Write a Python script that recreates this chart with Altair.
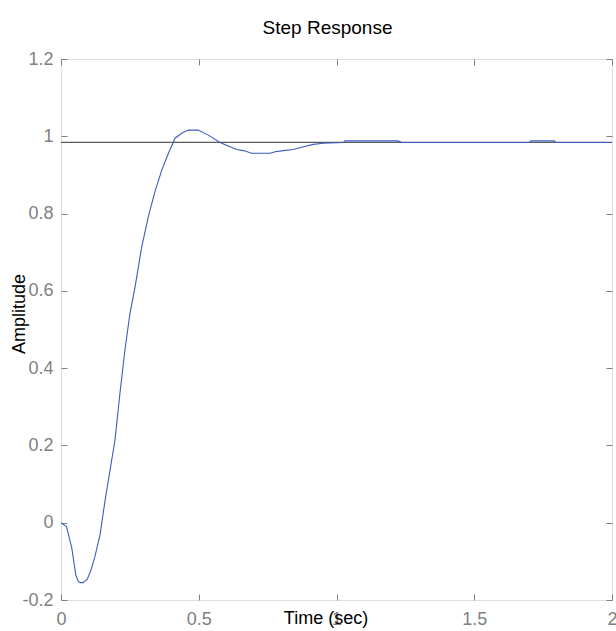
import altair as alt
import pandas as pd

# Step response samples
t_vals = [0, 0.02, 0.039, 0.054, 0.063, 0.07, 0.08, 0.095, 0.11, 0.123, 0.142,
          0.16, 0.178, 0.196, 0.214, 0.232, 0.25, 0.269, 0.293, 0.317, 0.341,
          0.366, 0.39, 0.414, 0.438, 0.462, 0.498, 0.535, 0.577, 0.638, 0.662,
          0.692, 0.759, 0.777, 0.807, 0.843, 0.88, 0.916, 0.952, 1.025, 1.031,
          1.224, 1.237, 1.70, 1.706, 1.79, 1.796, 2.0]
amp_vals = [0, -0.01, -0.065, -0.136, -0.152, -0.155, -0.155, -0.147, -0.12, -0.088, -0.03,
            0.058, 0.136, 0.214, 0.335, 0.447, 0.54, 0.611, 0.714, 0.792, 0.857,
            0.913, 0.956, 0.995, 1.008, 1.016, 1.016, 1.003, 0.984, 0.966, 0.963,
            0.956, 0.956, 0.960, 0.963, 0.966, 0.973, 0.979, 0.982, 0.984, 0.988,
            0.988, 0.984, 0.984, 0.988, 0.988, 0.984, 0.984]
steady_state = [0.984]
x_ticks = [0, 0.5, 1, 1.5, 2]
y_ticks = [-0.2, 0, 0.2, 0.4, 0.6, 0.8, 1, 1.2]

df = pd.DataFrame({"t": t_vals, "amp": amp_vals})
ss = pd.DataFrame({"ss": steady_state})

FONT = "Liberation Sans"
GRAY = "#808080"

xscale = alt.Scale(domain=[0, 2], nice=False, zero=False)
yscale = alt.Scale(domain=[-0.2, 1.2], nice=False, zero=False)

common_axis = dict(grid=False, domain=False, tickColor=GRAY, tickSize=6,
                   tickWidth=1, offset=-6, labelFlush=False, labelOverlap=False)

x_bottom = alt.Axis(values=x_ticks, orient="bottom", labelExpr="'' + datum.value",
                    labelFont=FONT, labelFontSize=18, labelColor=GRAY, labelPadding=10,
                    title="Time (sec)", titleFont=FONT, titleFontSize=18,
                    titleFontWeight="normal", titleColor="black",
                    titleX=264.5, titleY=29, titleBaseline="alphabetic",
                    titleAlign="center", **common_axis)
y_left = alt.Axis(values=y_ticks, orient="left", labelExpr="'' + datum.value",
                  labelFont=FONT, labelFontSize=18, labelColor=GRAY, labelPadding=8,
                  title="Amplitude", titleFont=FONT, titleFontSize=18,
                  titleFontWeight="normal", titleColor="black",
                  titleX=-43, titleY=254.5, titleBaseline="alphabetic",
                  titleAlign="center", titleAngle=270, **common_axis)
x_top = alt.Axis(values=x_ticks, orient="top", labels=False, title=None, **common_axis)
y_right = alt.Axis(values=y_ticks, orient="right", labels=False, title=None, **common_axis)

ref = alt.Chart(ss).mark_rule(color="#5a5a5a", strokeWidth=1.3).encode(
    y=alt.Y("ss:Q", scale=yscale, axis=None)
)

curve = alt.Chart(df).mark_line(color="#3c5cbf", strokeWidth=1.1).encode(
    x=alt.X("t:Q", scale=xscale, axis=x_bottom),
    y=alt.Y("amp:Q", scale=yscale, axis=y_left),
    order="t:Q",
)

frame_axes = alt.Chart(df).mark_point(opacity=0).encode(
    x=alt.X("t:Q", scale=xscale, axis=x_top),
    y=alt.Y("amp:Q", scale=yscale, axis=y_right),
)

chart = alt.layer(ref, curve, frame_axes).resolve_axis(
    x="independent", y="independent"
).properties(
    width=551,
    height=541,
    title=alt.TitleParams("Step Response", font=FONT, fontSize=19, fontWeight="normal",
                          color="black", anchor="middle", dx=-9, offset=-3,
                          baseline="alphabetic"),
    autosize=alt.AutoSizeParams(type="none"),
    padding={"left": 61, "top": 59, "right": 4, "bottom": 31},
).configure_view(
    stroke=GRAY, strokeWidth=1
).configure(background="white")

chart.save("out.html", embed_options={"renderer": "svg", "actions": False})
